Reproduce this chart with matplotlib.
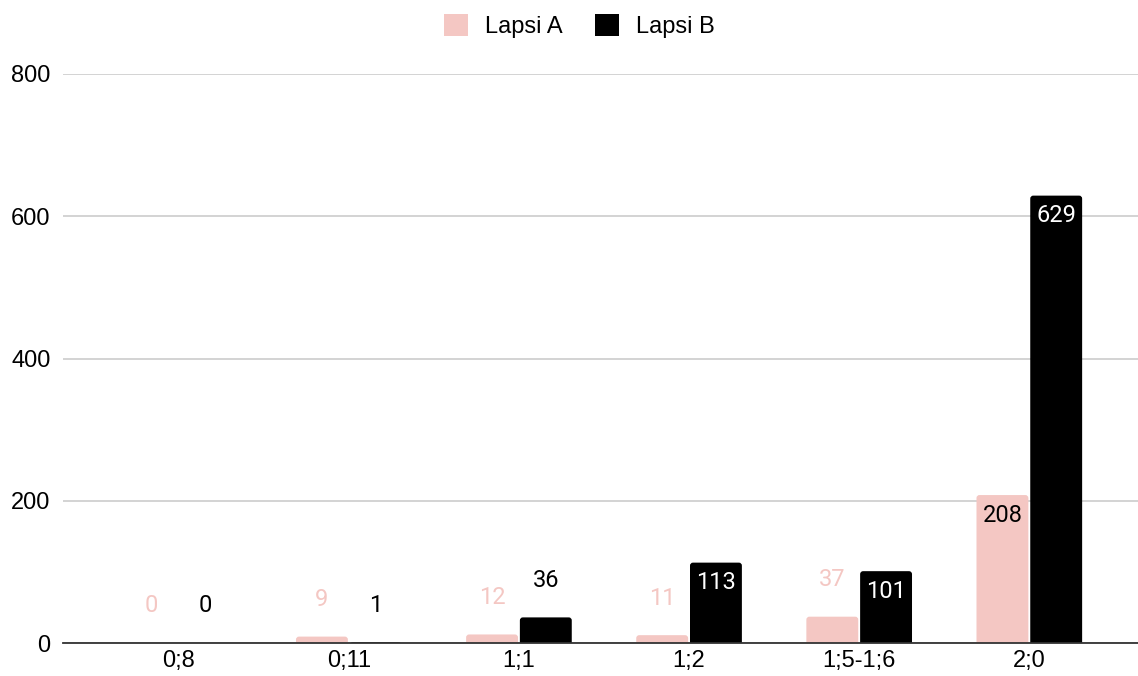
import numpy as np
import matplotlib
matplotlib.use('Agg')
import matplotlib.pyplot as plt
from matplotlib.patches import Patch, FancyBboxPatch

plt.rcParams['font.family'] = ['Liberation Sans', 'DejaVu Sans']
plt.rcParams['font.size'] = 17

# Age groups and counts per child
ages = ['0;8', '0;11', '1;1', '1;2', '1;5-1;6', '2;0']
lapsi_a = [0, 9, 12, 11, 37, 208]
lapsi_b = [0, 1, 36, 113, 101, 629]
yticks = [0, 200, 400, 600, 800]

PINK = '#f4c7c3'
BLACK = '#000000'

fig = plt.figure(figsize=(11.38, 6.76), dpi=100)
ax = fig.add_axes([63 / 1138, 33 / 676, 1082 / 1138, 569 / 676])
ax.set_xlim(-0.68, 5.68)
ax.set_ylim(0, 800)

x = np.arange(len(ages))
width = 0.305
offset = 0.158

# data units per pixel, used to keep corner rounding circular
ux = 6.36 / 1082
uy = 800 / 569


def rounded_bars(xs, values, color):
    bars = ax.bar(xs, values, width, color=color, zorder=3)
    for rect in bars:
        rect.set_visible(False)
        bottom = -6 * uy  # start below the axis so only the top corners show rounding
        p = FancyBboxPatch((rect.get_x(), bottom), rect.get_width(),
                           rect.get_height() - bottom,
                           boxstyle='round,pad=0,rounding_size=%f' % (3 * ux),
                           mutation_aspect=uy / ux, facecolor=color,
                           edgecolor='none', zorder=3)
        ax.add_patch(p)
    return bars


bars_a = rounded_bars(x - offset, lapsi_a, PINK)
bars_b = rounded_bars(x + offset, lapsi_b, BLACK)


def label_bars(bars, values, out_color, in_color):
    for rect, v in zip(bars, values):
        cx = rect.get_x() + rect.get_width() / 2
        if v > 60:
            ax.annotate(str(v), (cx, v), xytext=(0, -20), textcoords='offset pixels',
                        ha='center', va='center', color=in_color, fontsize=17,
                        family=['Roboto', 'DejaVu Sans'], zorder=4)
        else:
            ax.annotate(str(v), (cx, v), xytext=(0, 37), textcoords='offset pixels',
                        ha='center', va='center', color=out_color, fontsize=17,
                        family=['Roboto', 'DejaVu Sans'], zorder=4)


label_bars(bars_a, lapsi_a, PINK, BLACK)
label_bars(bars_b, lapsi_b, BLACK, 'white')

ax.set_yticks(yticks)
ax.set_xticks(x)
ax.set_xticklabels(ages)
ax.tick_params(axis='both', length=0, labelsize=17, colors='#000000')
ax.tick_params(axis='y', pad=9)
ax.tick_params(axis='x', pad=5)

ax.grid(True, axis='y', color='#cccccc', linewidth=1.2, zorder=0)
ax.set_axisbelow(True)
for side in ['top', 'right', 'left']:
    ax.spines[side].set_visible(False)
ax.spines['bottom'].set_color('#333333')
ax.spines['bottom'].set_linewidth(1.3)
ax.spines['bottom'].set_zorder(5)

handles = [Patch(facecolor=PINK, label='Lapsi A'), Patch(facecolor=BLACK, label='Lapsi B')]
fig.legend(handles=handles, loc='upper center', bbox_to_anchor=(0.509, 1.01), ncol=2,
           frameon=False, fontsize=17, handlelength=1.0, handleheight=1.0,
           handletextpad=0.72, columnspacing=1.4)

fig.savefig('out.png', dpi=100)
